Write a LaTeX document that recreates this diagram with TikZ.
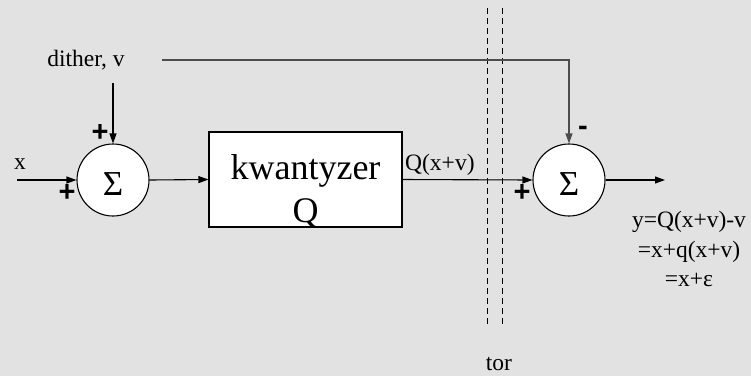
\documentclass[tikz,border=0pt]{standalone}
\usepackage{fontspec}
\setmainfont{Liberation Serif}
\newfontfamily\plusfont{Liberation Sans}
\usetikzlibrary{arrows.meta}
\definecolor{marble}{RGB}{226,226,226}
\tikzset{
  arr/.style={line width=1.1pt, -{Triangle[length=10pt,width=7pt]}},
  sumnode/.style={circle, draw, line width=1.1pt, fill=white, minimum size=72pt, inner sep=0pt},
  qbox/.style={draw, line width=1.1pt, fill=white, minimum width=193pt, minimum height=95pt, inner sep=0pt},
  lbl/.style={font=\fontsize{23.5}{28}\selectfont, inner sep=0pt, anchor=base},
  sgn/.style={font=\plusfont\bfseries\fontsize{29}{30}\selectfont, inner sep=0pt},
  sigma/.style={font=\fontsize{35}{40}\selectfont, inner sep=0pt},
  dashline/.style={line width=1pt, dash pattern=on 6pt off 4pt}
}
\begin{document}
\begin{tikzpicture}[x=1pt,y=-1pt]
\path[use as bounding box, fill=marble] (0,0) rectangle (751,376);
% nodes
\node[sumnode] (s1) at (113,180) {};
\node[sigma] (s1t) at (113,184) {Σ};
\node[qbox] (q) at (305.5,179.5) {};
\node[font=\fontsize{36}{43}\selectfont, align=center, inner sep=0pt, anchor=base] (qt) at (305.5,222) {kwantyzer\\Q};
\node[sumnode] (s2) at (569,180) {};
\node[sigma] (s2t) at (569,184) {Σ};
% coordinates
\coordinate (xin) at (17,180);
\coordinate (dith) at (113,83);
\coordinate (vstart) at (162,60);
\coordinate (yout) at (665,180);
\coordinate (d1t) at (487,8);
\coordinate (d1b) at (487,327);
\coordinate (d2t) at (502,8);
\coordinate (d2b) at (502,327);
% labels
\node[lbl] (lx) at (20,169) {x};
\node[lbl] (ldither) at (86,66) {dither, v};
\node[lbl, anchor=base west] (lq) at (405,170) {Q(x+v)};
\node[lbl] (ly1) at (689,227) {y=Q(x+v)-v};
\node[lbl] (ly2) at (689,257) {=x+q(x+v)};
\node[lbl] (ly3) at (689,286) {=x+ε};
\node[lbl] (ltor) at (499,370) {tor};
\node[sgn] (p1) at (67,193) {+};
\node[sgn] (p2) at (100,133) {+};
\node[sgn] (p3) at (522,193) {+};
\node[sgn] (m1) at (583,131) {-};
% connectors
\draw[dashline] (d1t) -- (d1b);
\draw[dashline] (d2t) -- (d2b);
\draw[arr] (xin) -- (s1.west);
\draw[arr] (dith) -- (s1.north);
\draw[arr] (s1.east) -- (q.west);
\draw[arr] (q.east) -- (s2.west);
\draw[arr] (s2.east) -- (yout);
\draw[arr, draw=black!70] (vstart) -| (s2.north);
\end{tikzpicture}
\end{document}
